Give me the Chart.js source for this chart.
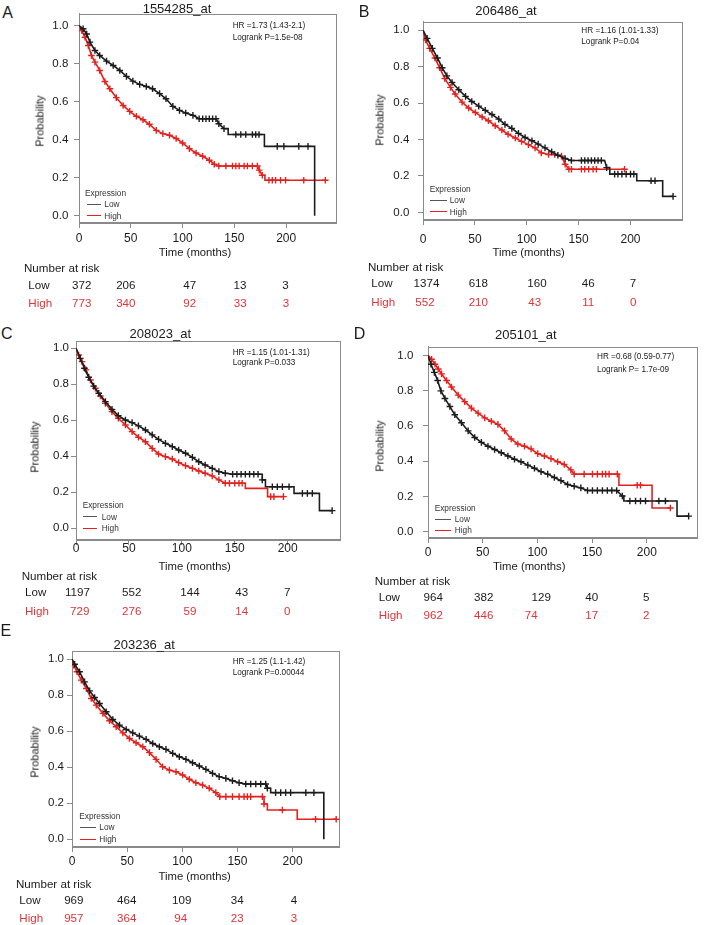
<!DOCTYPE html>
<html><head><meta charset="utf-8">
<script src="https://cdn.jsdelivr.net/npm/chart.js@4.4.1/dist/chart.umd.min.js"></script>
<style>
html,body{margin:0;padding:0;background:#fff;}
body{width:704px;height:925px;position:relative;overflow:hidden;font-family:"Liberation Sans",Arial,Helvetica,sans-serif;}
canvas{position:absolute;}
.t{position:absolute;line-height:1;white-space:nowrap;color:#1a1a1a;}
</style></head><body>
<script>
// ---------------- data ----------------
const panelLetters = ['A','B','C','D','E'];
const probeIds = ['1554285_at','206486_at','208023_at','205101_at','203236_at'];
const hrLabels = ['HR =1.73 (1.43-2.1)','HR =1.16 (1.01-1.33)','HR =1.15 (1.01-1.31)','HR =0.68 (0.59-0.77)','HR =1.25 (1.1-1.42)'];
const logrankLabels = ['Logrank P=1.5e-08','Logrank P=0.04','Logrank P=0.033','Logrank P= 1.7e-09','Logrank P=0.00044'];
const groupNames = ['Low','High'];
const xTickValues = [0,50,100,150,200];
const yTickValues = [0,0.2,0.4,0.6,0.8,1.0];
const riskLow  = [[372,206,47,13,3],[1374,618,160,46,7],[1197,552,144,43,7],[964,382,129,40,5],[969,464,109,34,4]];
const riskHigh = [[773,340,92,33,3],[552,210,43,11,0],[729,276,59,14,0],[962,446,74,17,2],[957,364,94,23,3]];

// survival curves: [time (months), probability, censor mark 1/0]
const curveA_low = [[0,1,0],[4,0.983,1],[7.4,0.956,1],[10.6,0.913,1],[15.4,0.869,1],[20,0.843,1],[26.6,0.813,1],[33,0.79,1],[39.4,0.764,1],[45.8,0.733,1],[52,0.708,1],[58.6,0.691,1],[65,0.68,1],[71,0.668,1],[77.8,0.642,1],[84,0.615,1],[90.6,0.575,1],[97,0.554,1],[103,0.54,1],[110,0.528,1],[116,0.51,1],[119.4,0.51,1],[122.6,0.51,1],[125.8,0.51,1],[129,0.51,1],[132.2,0.51,1],[135,0.484,1],[140,0.458,1],[144,0.458,0],[144,0.427,0],[151.4,0.427,1],[156.2,0.427,1],[161,0.427,1],[167.4,0.427,1],[170.6,0.427,1],[173.8,0.427,1],[179,0.427,0],[179,0.365,0],[191.4,0.365,1],[197.8,0.365,1],[212.2,0.365,1],[221.1,0.365,1],[227.5,0.365,0],[227.5,0,0]];
const curveA_high = [[0,1,0],[2.6,0.974,1],[5.8,0.939,1],[9,0.895,1],[12,0.843,1],[15.4,0.808,1],[20,0.764,1],[25,0.706,1],[29.8,0.668,1],[36,0.621,1],[42.6,0.58,1],[49,0.549,1],[55.4,0.523,1],[61.8,0.505,1],[68,0.481,1],[74.6,0.449,1],[81,0.432,1],[87.4,0.423,1],[93.8,0.406,1],[100,0.383,1],[106.6,0.353,1],[113,0.33,1],[119.4,0.313,1],[125.8,0.292,1],[130.6,0.271,1],[135,0.262,1],[141.8,0.262,1],[148.2,0.262,1],[151.4,0.262,1],[154.6,0.262,1],[159.4,0.262,1],[162.6,0.262,1],[167.4,0.262,1],[172.2,0.262,1],[174,0.24,1],[177,0.213,1],[179.5,0.213,0],[179.5,0.187,0],[183.4,0.187,1],[186.6,0.187,1],[189.8,0.187,1],[194.6,0.187,1],[199.4,0.187,1],[217,0.187,1],[237.8,0.187,1]];
const curveB_low = [[0,1,0],[4,0.955,1],[9,0.9,1],[14,0.847,1],[18.5,0.794,1],[23,0.749,1],[28,0.713,1],[34.5,0.673,1],[41,0.637,1],[47,0.609,1],[53.7,0.583,1],[60,0.56,1],[66.5,0.537,1],[73,0.512,1],[79,0.483,1],[85.6,0.461,1],[92,0.434,1],[98.4,0.411,1],[105,0.393,1],[111,0.375,1],[117.6,0.354,1],[124,0.332,1],[130,0.314,1],[137,0.296,1],[143,0.285,1],[152.7,0.285,1],[155.9,0.285,1],[159.1,0.285,1],[162.3,0.285,1],[165.5,0.285,1],[168.7,0.285,1],[171.9,0.285,1],[175.1,0.285,0],[177,0.246,1],[180,0.246,0],[180,0.21,0],[184.7,0.21,1],[187.9,0.21,1],[191.7,0.21,1],[195.8,0.21,1],[200,0.21,1],[203.2,0.21,1],[206,0.21,0],[206,0.174,0],[219.8,0.174,1],[223.6,0.174,1],[231,0.174,0],[231,0.088,0],[241,0.088,1]];
const curveB_high = [[0,1,0],[2.5,0.946,1],[6.4,0.9,1],[11.5,0.847,1],[16,0.794,1],[21,0.734,1],[26.5,0.686,1],[31,0.65,1],[37.7,0.605,1],[44,0.573,1],[50.5,0.548,1],[57,0.524,1],[63,0.503,1],[69.6,0.476,1],[76,0.452,1],[82,0.429,1],[89,0.408,1],[95,0.39,1],[101.6,0.372,1],[108,0.354,1],[114,0.327,1],[121,0.318,1],[127,0.318,1],[133.5,0.309,1],[137,0.264,1],[140.6,0.237,1],[143.1,0.237,1],[152.7,0.237,1],[155.9,0.237,1],[159.7,0.237,1],[163.9,0.237,1],[167.1,0.237,1],[194.2,0.237,1]];
const curveC_low = [[0,1,0],[4,0.944,1],[8,0.889,1],[12,0.839,1],[16.7,0.79,1],[21.5,0.75,1],[27.8,0.704,1],[34,0.661,1],[40,0.626,1],[46.7,0.602,1],[53,0.587,1],[59,0.569,1],[65.6,0.546,1],[72,0.519,1],[78,0.494,1],[84.5,0.472,1],[91,0.454,1],[97,0.435,1],[103.5,0.417,1],[110,0.394,1],[116,0.37,1],[122,0.352,1],[128.7,0.333,1],[135,0.315,1],[141,0.306,1],[148,0.3,1],[152,0.3,1],[156,0.3,1],[160,0.3,1],[164,0.3,1],[168,0.3,1],[172,0.3,1],[176,0.3,0],[176,0.269,1],[179,0.269,0],[179,0.231,0],[185.5,0.231,1],[190.2,0.231,1],[195,0.231,1],[201.3,0.231,1],[206,0.231,0],[206,0.194,0],[213.9,0.194,1],[218.6,0.194,1],[223.3,0.194,1],[230,0.194,0],[230,0.098,0],[242,0.098,1]];
const curveC_high = [[0,1,0],[2.5,0.963,1],[5.7,0.926,1],[9.5,0.88,1],[13.6,0.824,1],[18.3,0.778,1],[23,0.735,1],[27.8,0.694,1],[34,0.648,1],[40,0.611,1],[46.7,0.574,1],[53,0.537,1],[59,0.506,1],[65.6,0.481,1],[72,0.444,1],[78,0.413,1],[84.5,0.398,1],[91,0.385,1],[97,0.365,1],[103.5,0.348,1],[110,0.333,1],[116,0.318,1],[122,0.306,1],[128.7,0.291,1],[135,0.269,1],[141,0.25,1],[145,0.25,1],[150,0.25,1],[154,0.25,1],[157,0.25,1],[160,0.25,0],[160,0.222,0],[181,0.222,0],[181,0.176,0],[184,0.176,1],[187,0.176,1],[196,0.176,1]];
const curveD_low = [[0,1,0],[2.7,0.95,1],[5.8,0.904,1],[8.8,0.858,1],[11.8,0.799,1],[15.5,0.756,1],[20,0.71,1],[24.5,0.664,1],[30.6,0.618,1],[36.7,0.572,1],[42.7,0.535,1],[48.8,0.507,1],[54.8,0.485,1],[60.9,0.467,1],[67,0.448,1],[73,0.43,1],[79,0.411,1],[85,0.397,1],[91.2,0.378,1],[97.3,0.36,1],[103.3,0.341,1],[109.4,0.327,1],[115.5,0.308,1],[121.5,0.29,1],[127.6,0.268,1],[133.6,0.258,1],[139.7,0.249,1],[145.8,0.234,1],[150.3,0.234,1],[154.8,0.234,1],[159.4,0.234,1],[163.9,0.234,1],[168,0.234,1],[172.4,0.234,1],[177.6,0.203,1],[179,0.203,0],[179,0.175,0],[184.5,0.175,1],[189.7,0.175,1],[194.2,0.175,1],[198.8,0.175,1],[211,0.175,1],[217,0.175,1],[227.6,0.175,0],[227.6,0.089,0],[238.2,0.089,1]];
const curveD_high = [[0,1,0],[3.3,0.978,1],[6.4,0.95,1],[9.4,0.923,1],[12.4,0.895,1],[17,0.858,1],[21.5,0.821,1],[27.6,0.775,1],[33.6,0.738,1],[39.7,0.701,1],[45.8,0.673,1],[51.8,0.646,1],[57.9,0.627,1],[63.9,0.609,1],[70,0.572,1],[76,0.526,1],[82.1,0.498,1],[88.2,0.485,1],[94.2,0.47,1],[100.3,0.443,1],[106.4,0.43,1],[112.4,0.415,1],[118.5,0.397,1],[124.5,0.382,1],[130.6,0.351,1],[133.6,0.327,1],[142.7,0.327,1],[150.3,0.327,1],[154.8,0.327,1],[159.4,0.327,1],[162.4,0.327,1],[165.5,0.327,1],[173,0.327,1],[174.5,0.327,0],[174.5,0.264,0],[191.2,0.264,1],[194.2,0.264,1],[204.8,0.264,0],[204.8,0.135,0],[221.5,0.135,1]];
const curveE_low = [[0,1,0],[2.4,0.972,1],[6.9,0.93,1],[11.4,0.874,1],[16,0.824,1],[20.5,0.787,1],[25,0.754,1],[31,0.708,1],[37,0.665,1],[43.1,0.634,1],[49.1,0.61,1],[55.1,0.591,1],[61.1,0.573,1],[67.2,0.555,1],[73.2,0.532,1],[79.2,0.514,1],[85.2,0.499,1],[91.3,0.477,1],[97.3,0.458,1],[103.3,0.444,1],[109.3,0.425,1],[115.4,0.407,1],[121.4,0.388,1],[127.4,0.366,1],[133.4,0.348,1],[139.5,0.338,1],[145.5,0.325,1],[151.5,0.314,1],[157.5,0.307,1],[162,0.307,1],[166.6,0.307,1],[171.1,0.307,1],[175.6,0.307,1],[177.1,0.283,1],[180.1,0.283,0],[180.1,0.259,0],[184.6,0.259,1],[189.2,0.259,1],[193.7,0.259,1],[198.2,0.259,1],[212,0.259,1],[219.3,0.259,1],[228.3,0.259,0],[228.3,0,0]];
const curveE_high = [[0,1,0],[1.5,0.967,1],[4.5,0.93,1],[8.4,0.884,1],[13,0.837,1],[17.5,0.782,1],[22,0.745,1],[28,0.699,1],[34,0.658,1],[40,0.625,1],[46.1,0.591,1],[52.1,0.56,1],[58.1,0.536,1],[64.2,0.514,1],[70.2,0.481,1],[76.2,0.444,1],[82.2,0.403,1],[88.3,0.384,1],[94.3,0.375,1],[100.3,0.357,1],[106.3,0.333,1],[112.3,0.314,1],[118.4,0.301,1],[124.4,0.283,1],[130.4,0.259,1],[134,0.237,1],[139.5,0.237,1],[145.5,0.237,1],[151.5,0.237,1],[156,0.237,1],[159,0.237,1],[162,0.237,1],[172.6,0.237,1],[174.1,0.237,0],[174.1,0.196,1],[177.1,0.196,0],[177.1,0.163,0],[190.7,0.163,1],[204.2,0.163,0],[204.2,0.111,0],[220.8,0.111,1],[239.5,0.111,1]];

const curves = [[curveA_low,curveA_high],[curveB_low,curveB_high],[curveC_low,curveC_high],[curveD_low,curveD_high],[curveE_low,curveE_high]];

// ---------------- layout & style ----------------
const FONT = '"Liberation Sans", Arial, Helvetica, sans-serif';
const RED = '#e3221f', BLACK = '#1c1c1c', RED_TXT = '#df3438', AXIS = '#8a8a8a', TXT = '#1a1a1a';
const L = 60, R = 4, T = 12, B = 32;
const panels = [
 {box:[79,13,338,223], xmax:248.7, ymin:-0.038, ymax:1.063, xpad:3.1, ypad:5.7,
  letter:[7.5,12.5], title:[177,8.3], hr:[232.7,25.7,37.7], prob:[40,120.8], time:[195,253.3],
  leg:{x:85,y:193,l0:87.3,l1:101,tx:104.3,ly:[204,215.7]}, nar:[24,268.3], rowX:28.3, rowY:[285,303.3],
  colsLow:[81.7,125.8,189.7,240,285.5], colsHigh:[81.7,125.8,189.7,240.3,286]},
 {box:[423,18,684,220], xmax:250.2, ymin:-0.0415, ymax:1.047, xpad:7.1, ypad:8.7,
  letter:[364,12], title:[506,9.5], hr:[581.3,30.7,42.3], prob:[380.3,120], time:[528.7,253.3],
  leg:{x:429.7,y:189.3,l0:430.3,l1:447,tx:449.7,ly:[200.3,211.7]}, nar:[368,266.7], rowX:371.3, rowY:[282.7,301.7],
  colsLow:[426.5,478.3,537,588.3,633], colsHigh:[425,478.3,534.8,588.3,633.3]},
 {box:[76,341,342,540], xmax:250, ymin:-0.065, ymax:1.0406, xpad:-3.9, ypad:2,
  letter:[6.7,334], title:[160.3,332.7], hr:[232.7,352.7,363.3], prob:[35,446.7], time:[194.7,566.7],
  leg:{x:82.7,y:505,l0:83.3,l1:96.7,tx:101.7,ly:[516.7,528.3]}, nar:[21.7,576], rowX:25, rowY:[592.3,610.7],
  colsLow:[77.5,131.7,190,241.7,287.3], colsHigh:[79.7,131.7,190,241.7,287.3]},
 {box:[428,342,699,538], xmax:246.4, ymin:-0.0349, ymax:1.0498, xpad:2.8, ypad:9.7,
  letter:[359.5,334], title:[525.8,333.8], hr:[597,357.3,370], prob:[380.3,445.8], time:[529.3,566.7],
  leg:{x:434.7,y:507.7,l0:435.3,l1:451.3,tx:454.7,ly:[519.3,530]}, nar:[374.7,581], rowX:378.7, rowY:[596.7,615],
  colsLow:[433.2,483.7,541.2,591.7,646.2], colsHigh:[433.2,483.7,531.2,591.7,646.2]},
 {box:[72,651,341,847], xmax:242.6, ymin:-0.0428, ymax:1.0455, xpad:2.5, ypad:3,
  letter:[5.8,630.8], title:[144.2,643.8], hr:[232.7,662.3,672.7], prob:[35,751.7], time:[194.7,876.7],
  leg:{x:79.3,y:815.7,l0:80,l1:96,tx:99.3,ly:[827.3,839.3]}, nar:[16,884.3], rowX:19.3, rowY:[900,918.3],
  colsLow:[73.8,126.7,181.7,237.2,294], colsHigh:[73.8,126.7,180.8,237.2,294]}
];

function addText(str, x, y, size, align, color, rotate){
  const d = document.createElement('div');
  d.className = 't';
  d.textContent = str;
  d.style.left = x + 'px';
  d.style.top = y + 'px';
  d.style.fontSize = size + 'px';
  d.style.color = color || TXT;
  const tx = align === 'center' ? '-50%' : (align === 'right' ? '-100%' : '0');
  d.style.transform = 'translate(' + tx + ',-50%)' + (rotate ? ' rotate(' + rotate + 'deg)' : '');
  document.body.appendChild(d);
}
function addLine(x0, x1, y, color){
  const d = document.createElement('div');
  d.style.cssText = 'position:absolute;left:' + x0 + 'px;top:' + (y - 0.5) + 'px;width:' + (x1 - x0) + 'px;height:0;border-top:1px solid ' + color + ';';
  document.body.appendChild(d);
}

const boxPlugin = {
  id: 'kmBox',
  beforeDatasetsDraw(chart){
    const {ctx, chartArea: a} = chart;
    ctx.save();
    ctx.strokeStyle = AXIS;
    ctx.lineWidth = 1;
    ctx.strokeRect(Math.round(a.left) + 0.5, Math.round(a.top) + 0.5, Math.round(a.right - a.left) - 1, Math.round(a.bottom - a.top) - 1);
    ctx.restore();
  }
};

const toPts = arr => arr.map(([x, y, c]) => ({x, y, c}));
function dataset(points, color, label){
  return {
    label, data: toPts(points), borderColor: color, borderWidth: 1.6,
    pointStyle: 'cross', pointRadius: ctx => (ctx.raw && ctx.raw.c) ? 3.3 : 0,
    pointBorderColor: color, pointBackgroundColor: color, pointBorderWidth: 1.4,
    fill: false, tension: 0
  };
}

panels.forEach((p, i) => {
  const [bx0, by0, bx1, by1] = p.box;
  const w = bx1 - bx0 + L + R, h = by1 - by0 + T + B;
  const cv = document.createElement('canvas');
  cv.width = w; cv.height = h;
  cv.style.left = (bx0 - L) + 'px'; cv.style.top = (by0 - T) + 'px';
  cv.style.width = w + 'px'; cv.style.height = h + 'px';
  document.body.appendChild(cv);

  new Chart(cv.getContext('2d'), {
    type: 'line',
    data: { datasets: [ dataset(curves[i][0], BLACK, groupNames[0]), dataset(curves[i][1], RED, groupNames[1]) ] },
    options: {
      responsive: false, animation: false, devicePixelRatio: 1, events: [],
      layout: { padding: { left: 0, top: T, right: R, bottom: 0 } },
      plugins: { legend: { display: false }, tooltip: { enabled: false }, title: { display: false } },
      scales: {
        x: {
          type: 'linear', min: 0, max: p.xmax,
          afterBuildTicks: s => { s.ticks = xTickValues.map(v => ({value: v})); },
          afterFit: s => { s.height = B; },
          ticks: { padding: p.xpad, color: TXT, font: { family: FONT, size: 12 }, maxRotation: 0, autoSkip: false, callback: v => String(v) },
          grid: { drawOnChartArea: false, drawTicks: true, tickLength: 5, color: AXIS, lineWidth: 1 },
          border: { display: true, color: AXIS }
        },
        y: {
          type: 'linear', min: p.ymin, max: p.ymax,
          afterBuildTicks: s => { s.ticks = yTickValues.map(v => ({value: v})); },
          afterFit: s => { s.width = L; },
          ticks: { padding: p.ypad, color: TXT, font: { family: FONT, size: 11.5 }, autoSkip: false, callback: v => Number(v).toFixed(1) },
          grid: { drawOnChartArea: false, drawTicks: true, tickLength: 5, color: AXIS, lineWidth: 1 },
          border: { display: true, color: AXIS }
        }
      }
    },
    plugins: [boxPlugin]
  });

  // texts
  addText(panelLetters[i], p.letter[0], p.letter[1], 16, 'center');
  addText(probeIds[i], p.title[0], p.title[1], 13, 'center');
  addText(hrLabels[i], p.hr[0], p.hr[1], 8.2, 'left');
  addText(logrankLabels[i], p.hr[0], p.hr[2], 8.2, 'left');
  addText('Probability', p.prob[0], p.prob[1], 11, 'center', TXT, -90);
  addText('Time (months)', p.time[0], p.time[1], 11.3, 'center');
  addText('Expression', p.leg.x, p.leg.y, 8.3, 'left', '#333');
  addLine(p.leg.l0, p.leg.l1, p.leg.ly[0], '#555');
  addLine(p.leg.l0, p.leg.l1, p.leg.ly[1], RED);
  addText(groupNames[0], p.leg.tx, p.leg.ly[0], 8.3, 'left', '#333');
  addText(groupNames[1], p.leg.tx, p.leg.ly[1], 8.3, 'left', '#333');
  addText('Number at risk', p.nar[0], p.nar[1], 11.6, 'left');
  addText(groupNames[0], p.rowX, p.rowY[0], 11.6, 'left');
  addText(groupNames[1], p.rowX, p.rowY[1], 11.6, 'left', RED_TXT);
  riskLow[i].forEach((n, j) => addText(String(n), p.colsLow[j], p.rowY[0], 11.6, 'center'));
  riskHigh[i].forEach((n, j) => addText(String(n), p.colsHigh[j], p.rowY[1], 11.6, 'center', RED_TXT));
});
</script>
</body></html>
